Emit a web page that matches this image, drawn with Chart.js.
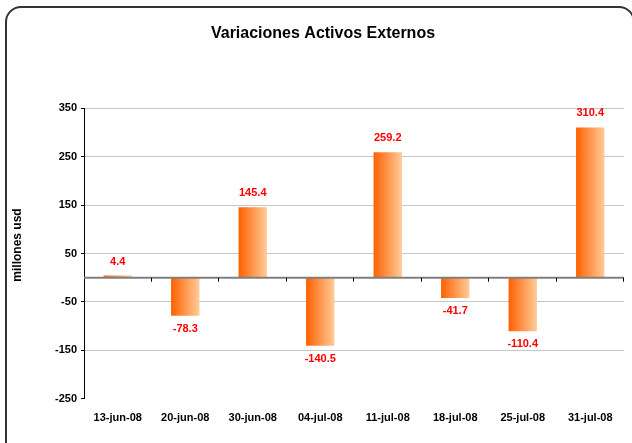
<!DOCTYPE html>
<html>
<head>
<meta charset="utf-8">
<script src="https://cdn.jsdelivr.net/npm/chart.js@4.4.0/dist/chart.umd.min.js"></script>
<style>
  html, body { margin: 0; padding: 0; background: #fff; overflow: hidden; }
  #wrap { position: relative; width: 632px; height: 443px; overflow: hidden; }
  #frame { position: absolute; left: 5px; top: 6px; width: 630px; height: 470px; border: 2px solid #333; border-radius: 16px; box-sizing: border-box; }
  #myChart { position: absolute; left: 0; top: 0; }
</style>
</head>
<body>
<div id="wrap">
  <div id="frame"></div>
  <canvas id="myChart" width="632" height="443"></canvas>
</div>
<script>
const dates = ["13-jun-08", "20-jun-08", "30-jun-08", "04-jul-08", "11-jul-08", "18-jul-08", "25-jul-08", "31-jul-08"];
const values = [4.4, -78.3, 145.4, -140.5, 259.2, -41.7, -110.4, 310.4];
const yTicks = [-250, -150, -50, 50, 150, 250, 350];
const yTitle = "millones usd";

const BAR_PCT = 0.42;
const FONT = '"Liberation Sans", Arial, sans-serif';

Chart.defaults.font.family = FONT;

// horizontal orange gradient for each bar
function barFill(context) {
  const chart = context.chart;
  if (!chart.chartArea) return "#ff6600";
  const xs = chart.scales.x;
  const cx = xs.getPixelForValue(context.dataIndex);
  const w = (xs.width / dates.length) * BAR_PCT;
  const g = chart.ctx.createLinearGradient(cx - w / 2, 0, cx + w / 2, 0);
  g.addColorStop(0, "#ff6000");
  g.addColorStop(1, "#ffcc99");
  return g;
}

// zero line, category ticks, value labels and y title
const extras = {
  id: "extras",
  afterDatasetsDraw(chart) {
    const { ctx, chartArea, scales } = chart;
    const y0 = scales.y.getPixelForValue(0);
    ctx.save();
    ctx.strokeStyle = "#7f7f7f";
    ctx.lineWidth = 2;
    ctx.beginPath();
    ctx.moveTo(chartArea.left, y0);
    ctx.lineTo(chartArea.right, y0);
    ctx.stroke();

    ctx.strokeStyle = "#000";
    ctx.lineWidth = 1;
    const step = scales.x.width / dates.length;
    for (let i = 1; i <= dates.length; i++) {
      const px = Math.round(chartArea.left + i * step) - 0.5;
      ctx.beginPath();
      ctx.moveTo(px, y0);
      ctx.lineTo(px, y0 + 4);
      ctx.stroke();
    }

    ctx.fillStyle = "#ff0000";
    ctx.font = "bold 11px " + FONT;
    ctx.textAlign = "center";
    ctx.textBaseline = "middle";
    chart.getDatasetMeta(0).data.forEach(function (bar, i) {
      const v = values[i];
      ctx.fillText(v.toFixed(1), bar.x, v >= 0 ? bar.y - 14 : bar.y + 13);
    });

    ctx.fillStyle = "#000";
    ctx.font = "bold 12px " + FONT;
    ctx.translate(18, 245);
    ctx.rotate(-Math.PI / 2);
    ctx.fillText(yTitle, 0, 0);
    ctx.restore();
  },
};

const ctx = document.getElementById("myChart").getContext("2d");

const myChart = new Chart(ctx, {
  type: "bar",
  data: {
    labels: dates,
    datasets: [
      {
        data: values,
        backgroundColor: barFill,
        borderWidth: 0,
        barPercentage: BAR_PCT,
        categoryPercentage: 1.0,
      },
    ],
  },
  options: {
    responsive: false,
    animation: false,
    layout: { padding: { left: 22, right: 8, top: 0, bottom: 5 } },
    plugins: {
      legend: { display: false },
      tooltip: { enabled: false },
      title: {
        display: true,
        text: "Variaciones Activos Externos",
        color: "#000",
        font: { size: 16, weight: "bold" },
        padding: { top: 24, bottom: 65 },
      },
    },
    scales: {
      x: {
        grid: { display: false, drawTicks: false },
        border: { display: false },
        ticks: {
          color: "#000",
          font: { size: 11, weight: "bold" },
          padding: 13,
          maxRotation: 0,
          autoSkip: false,
        },
      },
      y: {
        min: yTicks[0],
        max: yTicks[yTicks.length - 1],
        afterBuildTicks: function (scale) {
          scale.ticks = yTicks.map(function (v) { return { value: v }; });
        },
        afterFit: function (scale) {
          scale.width = 62;
        },
        grid: {
          color: function (c) {
            return c.tick && c.tick.value === yTicks[0] ? "rgba(0,0,0,0)" : "#c6c6c6";
          },
          tickColor: "#000",
          tickLength: 3,
        },
        border: { color: "#000", width: 1 },
        ticks: {
          color: "#000",
          font: { size: 11, weight: "bold" },
          padding: 4,
        },
      },
    },
  },
  plugins: [extras],
});
</script>
</body>
</html>
